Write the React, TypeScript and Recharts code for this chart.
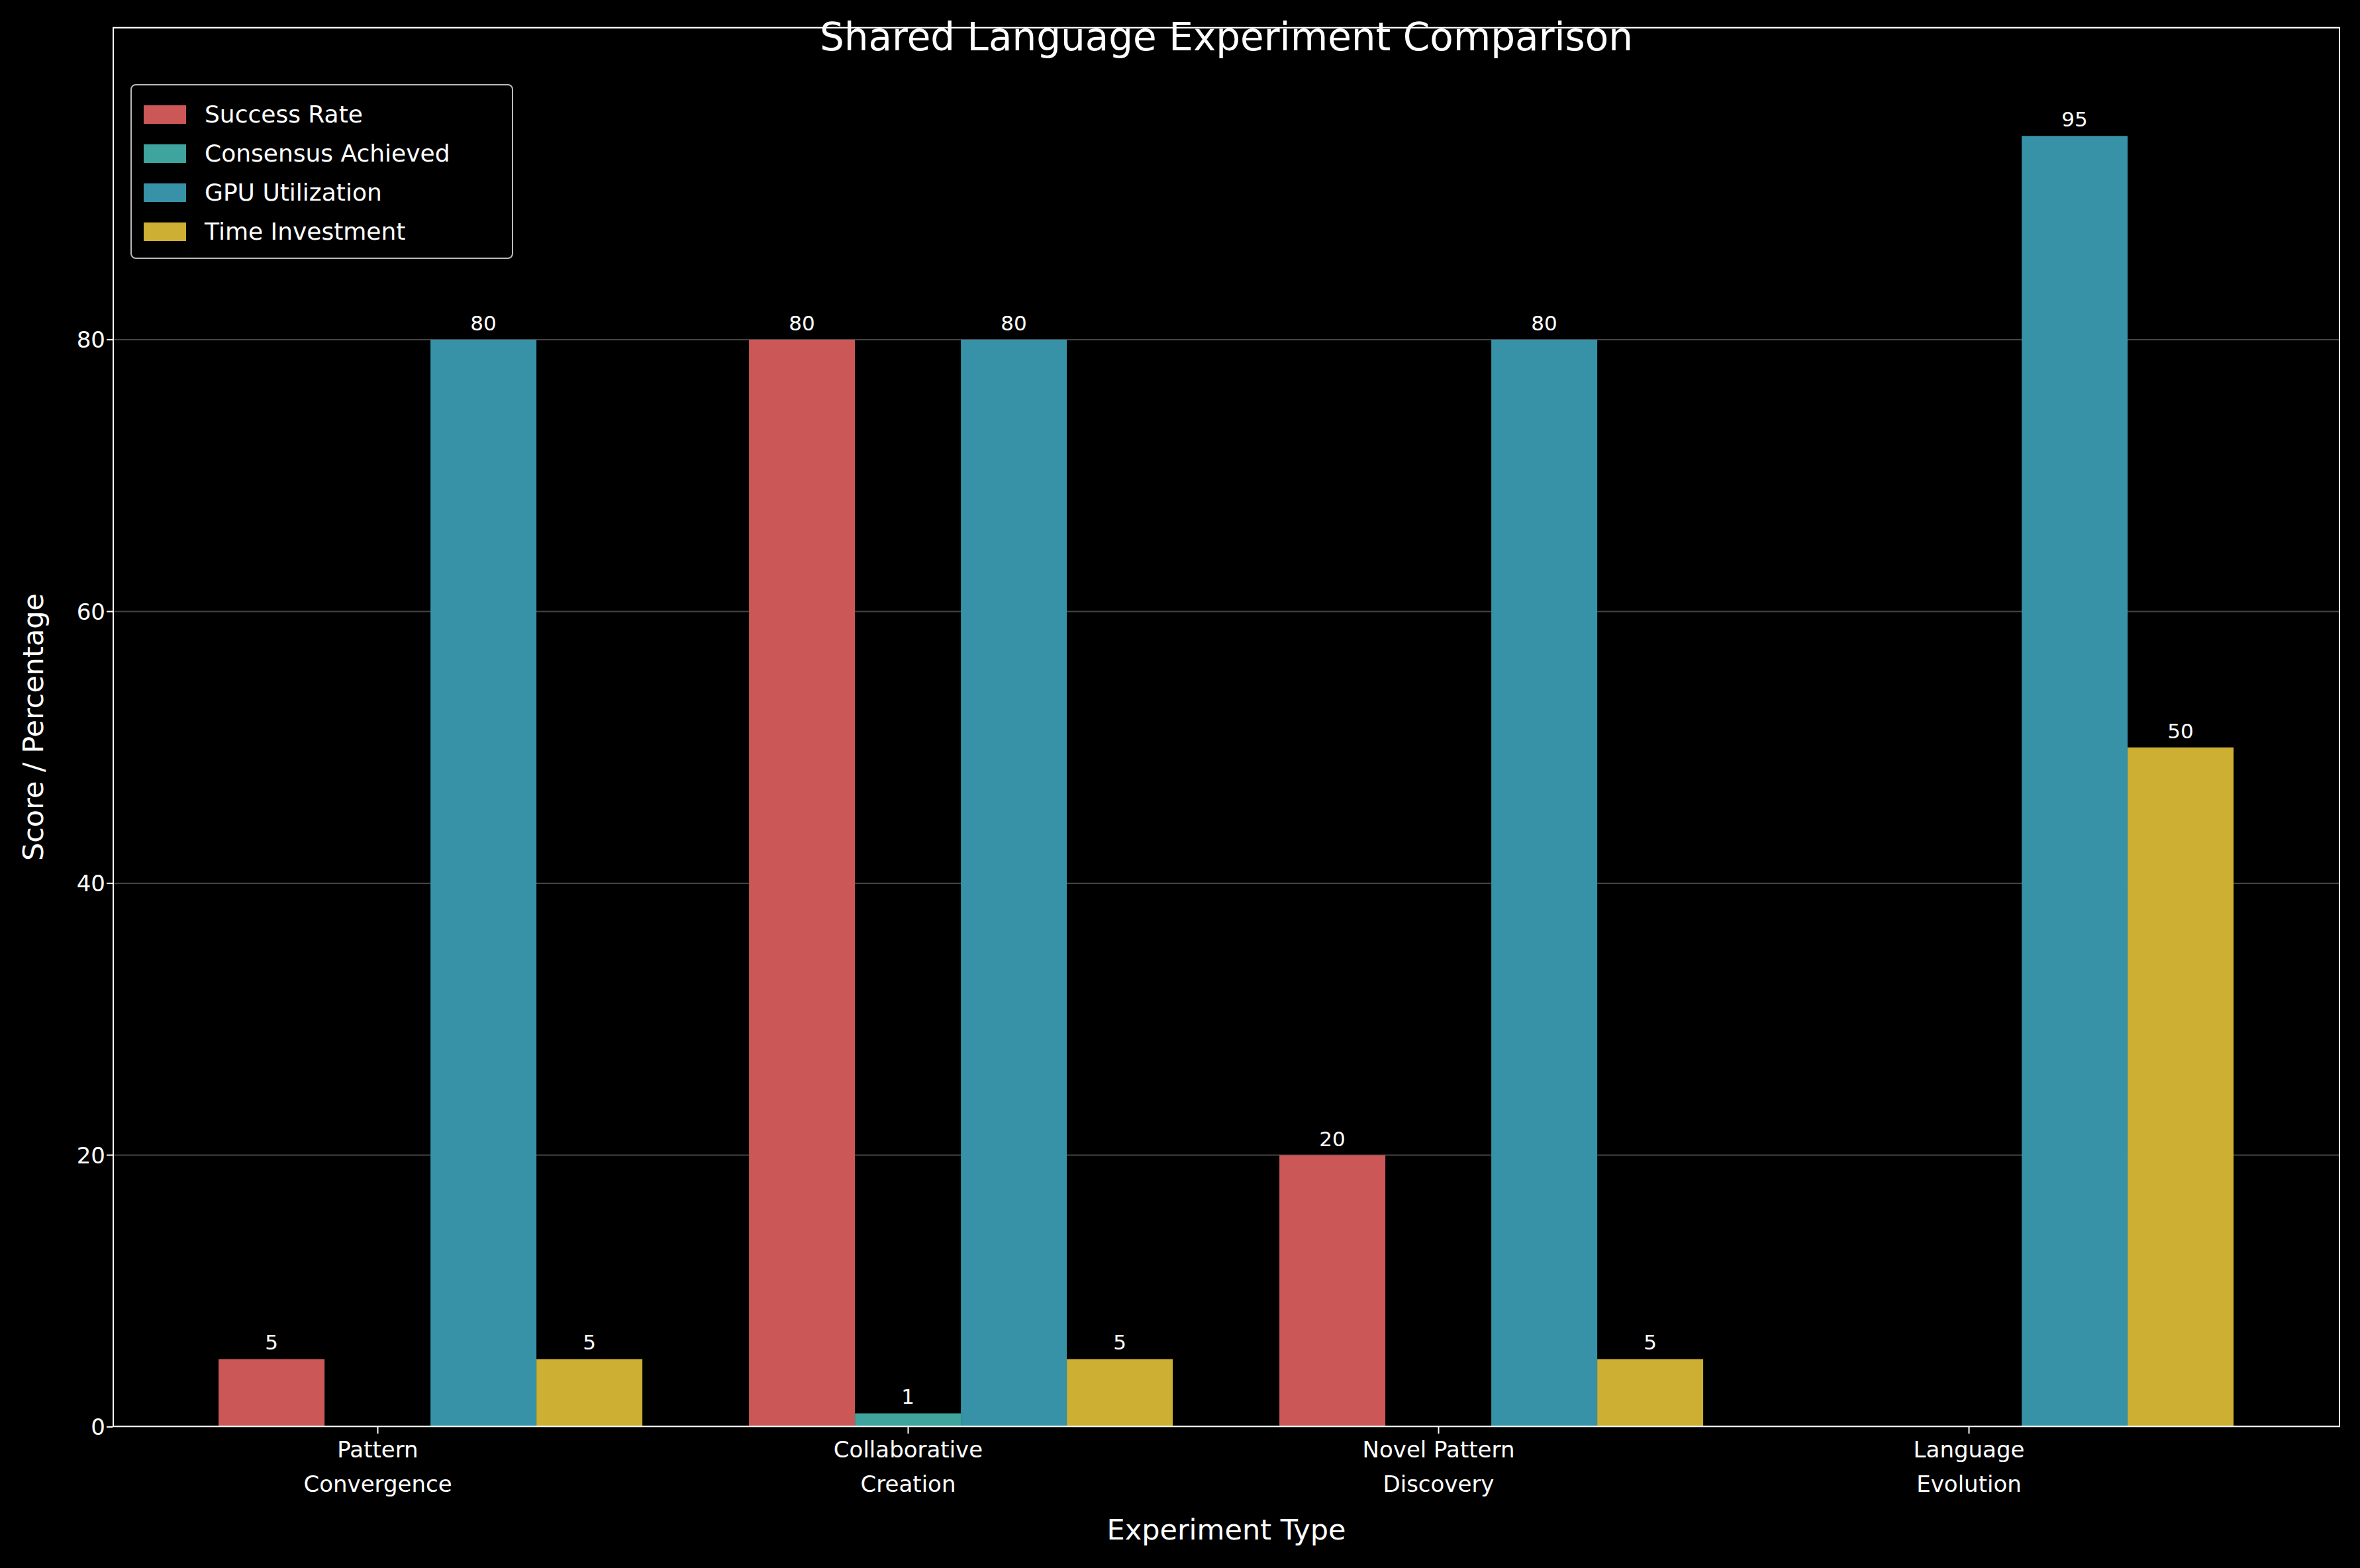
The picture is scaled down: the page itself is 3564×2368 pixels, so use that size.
import React from "react";
import { BarChart, Bar, XAxis, YAxis, CartesianGrid, LabelList } from "recharts";

const categories = ["Pattern\nConvergence", "Collaborative\nCreation", "Novel Pattern\nDiscovery", "Language\nEvolution"];
const successRate = [5, 80, 20, 0];
const consensus = [0, 1, 0, 0];
const gpu = [80, 80, 80, 95];
const timeInv = [5, 5, 5, 50];
const yTicks = [0, 20, 40, 60, 80];

const series = [
  { key: "success", name: "Success Rate", color: "#cc5757" },
  { key: "consensus", name: "Consensus Achieved", color: "#3ea49d" },
  { key: "gpu", name: "GPU Utilization", color: "#3792a8" },
  { key: "time", name: "Time Investment", color: "#ccaf33" },
];

const data = categories.map((c, i) => ({
  cat: c,
  success: successRate[i],
  consensus: consensus[i],
  gpu: gpu[i],
  time: timeInv[i],
}));

const W = 3564;
const H = 2368;
const L = 170;
const T = 41;
const R = 30;
const B = 213;

function CatTick(props: any) {
  const { x, y, payload } = props;
  const lines = String(payload.value).split("\n");
  return (
    <g transform={`translate(${x - 80},${y})`}>
      <line x1={0} y1={-8} x2={0} y2={2} stroke="#fff" strokeWidth={2} />
      {lines.map((l, i) => (
        <text key={i} x={0} y={38 + i * 52} textAnchor="middle" fill="#fff" fontSize={34}>
          {l}
        </text>
      ))}
    </g>
  );
}

const valueLabel = (props: any) => {
  const { x, y, width, value } = props;
  if (!value) return null;
  return (
    <text x={x + width / 2} y={y - 14} textAnchor="middle" fill="#fff" fontSize={31}>
      {value}
    </text>
  );
};

export default function App() {
  return (
    <div style={{ position: "fixed", left: 0, top: 0, width: W, height: H, background: "#000", fontFamily: "DejaVu Sans" }}>
      <BarChart
        width={W}
        height={H}
        data={data}
        margin={{ top: T, right: R, bottom: 0, left: 0 }}
        barCategoryGap="10%"
        barGap={0}
      >
        <CartesianGrid vertical={false} stroke="#444" strokeWidth={2} />
        <XAxis
          dataKey="cat"
          height={B}
          padding={{ left: 80, right: 80 }}
          tick={<CatTick />}
          tickLine={false}
          axisLine={false}
          interval={0}
        />
        <YAxis
          width={L}
          domain={[0, 103]}
          ticks={yTicks}
          allowDataOverflow
          tick={{ fill: "#fff", fontSize: 34 }}
          tickLine={{ stroke: "#fff", strokeWidth: 2 }}
          tickSize={9}
          axisLine={false}
        />
        {series.map((s) => (
          <Bar key={s.key} dataKey={s.key} fill={s.color} isAnimationActive={false}>
            <LabelList dataKey={s.key} content={valueLabel} />
          </Bar>
        ))}
      </BarChart>
      <div
        style={{
          position: "absolute",
          left: L,
          top: T,
          width: W - L - R,
          height: H - T - B,
          border: "2px solid #fff",
          boxSizing: "border-box",
          pointerEvents: "none",
        }}
      />
      <div style={{ position: "absolute", top: 22, left: L, width: W - L - R, textAlign: "center", color: "#fff", fontSize: 58 }}>
        Shared Language Experiment Comparison
      </div>
      <div style={{ position: "absolute", top: 2285, left: L, width: W - L - R, textAlign: "center", color: "#fff", fontSize: 43 }}>
        Experiment Type
      </div>
      <div
        style={{
          position: "absolute",
          left: 50,
          top: T + (H - T - B) / 2,
          transform: "translate(-50%,-50%) rotate(-90deg)",
          color: "#fff",
          fontSize: 43,
          whiteSpace: "nowrap",
        }}
      >
        Score / Percentage
      </div>
      <div
        style={{
          position: "absolute",
          left: 197,
          top: 127,
          width: 578,
          height: 264,
          border: "2px solid #bbb",
          borderRadius: 8,
          boxSizing: "border-box",
          padding: "14px 18px",
          color: "#fff",
          fontSize: 36,
        }}
      >
        {series.map((s) => (
          <div key={s.key} style={{ display: "flex", alignItems: "center", height: 59 }}>
            <div style={{ width: 64, height: 28, background: s.color, marginRight: 28 }} />
            {s.name}
          </div>
        ))}
      </div>
    </div>
  );
}
